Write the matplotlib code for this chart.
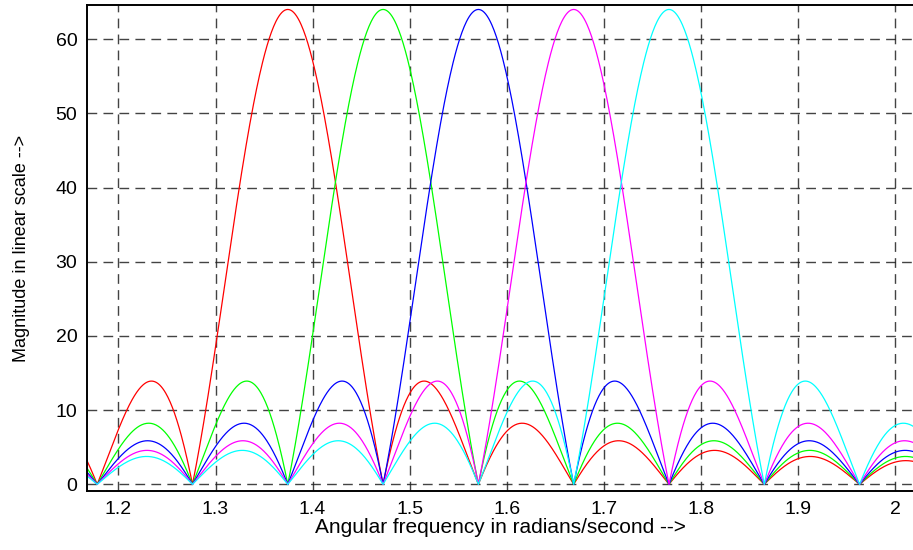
import numpy as np
import matplotlib
matplotlib.use("Agg")
import matplotlib.pyplot as plt

# DFT length and the bins whose spectra are shown
n_points = 64
bin_indices = [14, 15, 16, 17, 18]
line_colors = ["#ff0000", "#00ff00", "#0000ff", "#ff00ff", "#00ffff"]

x_ticks = [1.2, 1.3, 1.4, 1.5, 1.6, 1.7, 1.8, 1.9, 2.0]
x_tick_labels = ["1.2", "1.3", "1.4", "1.5", "1.6", "1.7", "1.8", "1.9", "2"]
y_ticks = [0, 10, 20, 30, 40, 50, 60]

n_fft = 8192
n = np.arange(n_points)
w = 2 * np.pi * np.arange(n_fft) / n_fft

plt.rcParams["font.family"] = ["Liberation Sans", "DejaVu Sans"]

fig = plt.figure(figsize=(9.13, 5.5), dpi=100)
ax = fig.add_axes([87 / 913, 59 / 550, 1 - 87 / 913 + 0.002, 486 / 550])

for k, color in zip(bin_indices, line_colors):
    wk = 2 * np.pi * k / n_points
    sig = np.exp(1j * wk * n)
    mag = np.abs(np.fft.fft(sig, n_fft))
    ax.plot(w, mag, color=color, linewidth=0.9)

ax.set_xlim(1.1676, 2.0204)
ax.set_ylim(-0.9, 64.6)
ax.set_xticks(x_ticks)
ax.set_xticklabels(x_tick_labels)
ax.set_yticks(y_ticks)
ax.tick_params(direction="in", length=0, labelsize=14, pad=7)

ax.grid(True, color="#222222", linestyle=(0, (7, 4.5)), linewidth=1.0, alpha=0.85)
for side in ["left", "bottom", "top"]:
    ax.spines[side].set_linewidth(1.4)
ax.spines["right"].set_visible(False)

ax.set_xlabel("Angular frequency in radians/second -->", fontsize=15, labelpad=0)
ax.set_ylabel("Magnitude in linear scale -->", fontsize=13, labelpad=18)

fig.savefig("out.png", dpi=100)
